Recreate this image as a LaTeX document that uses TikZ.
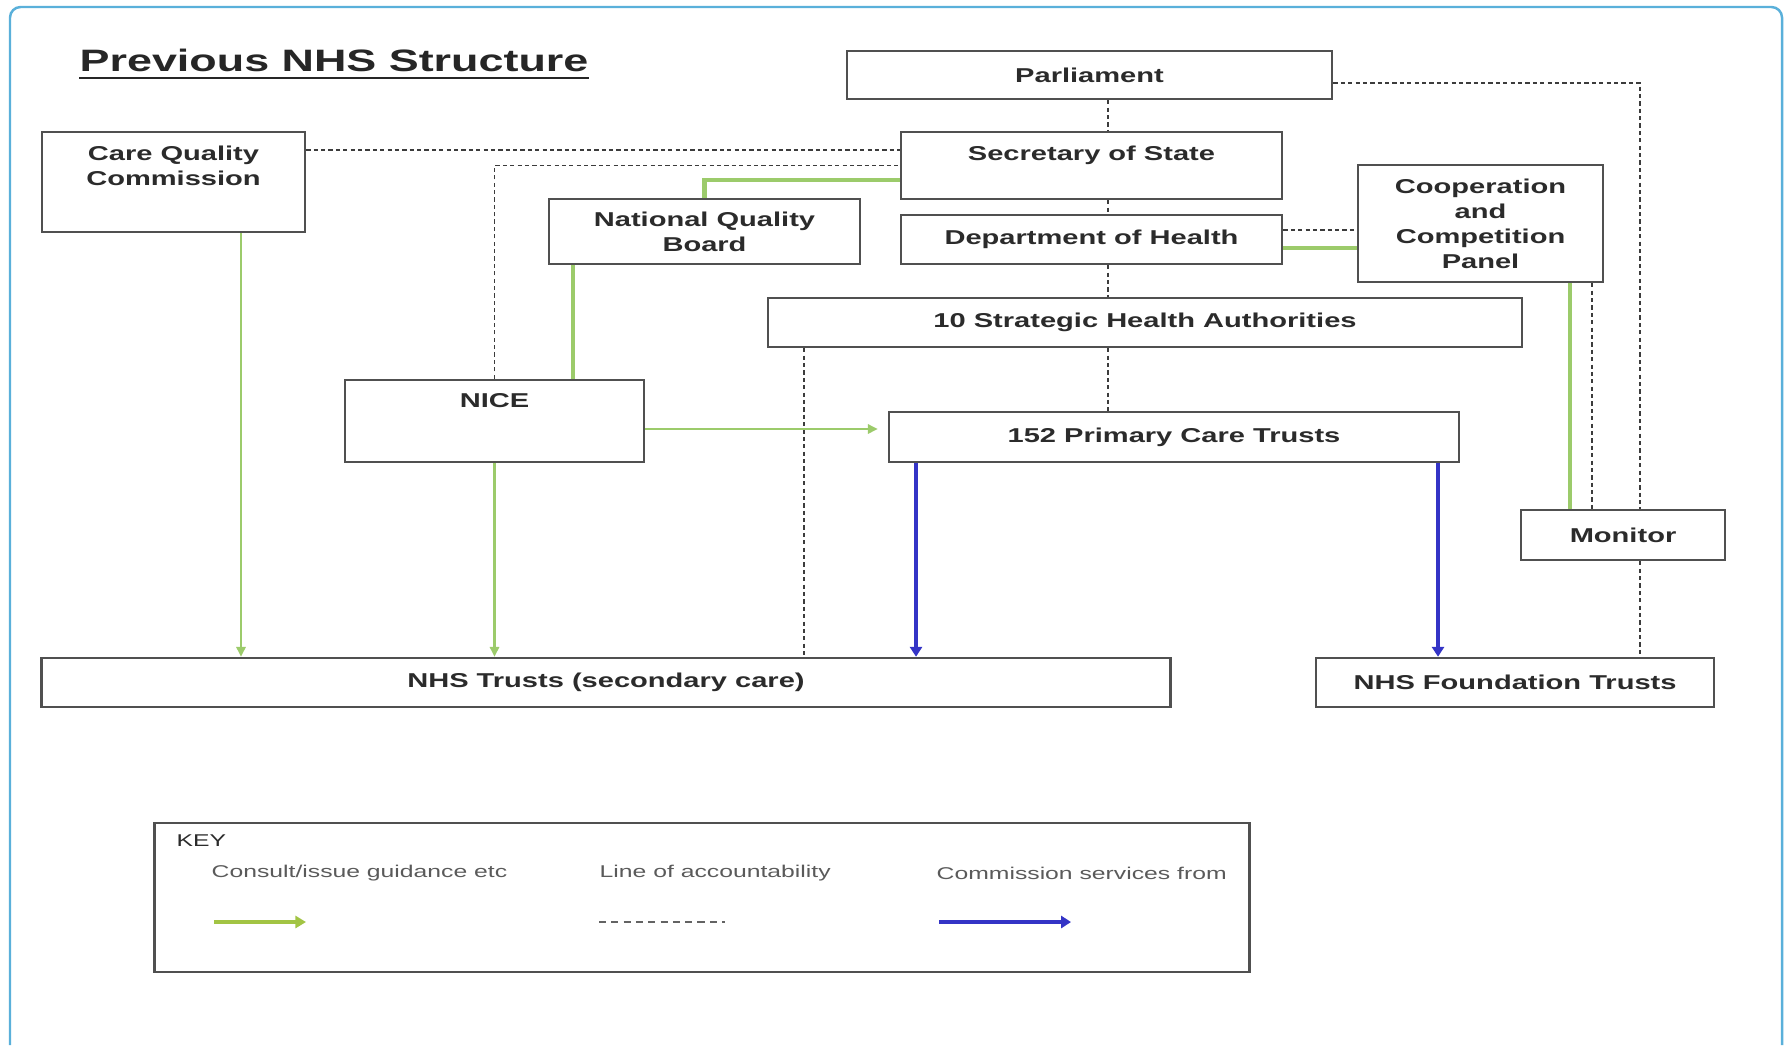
\documentclass[tikz,border=0pt]{standalone}
\usepackage{fontspec}
\usepackage{tikz}
\usepackage{xcolor}
\usetikzlibrary{arrows.meta}
\newfontfamily\nhsfont[FakeStretch=1.45]{Liberation Sans}

\begin{document}
\begin{tikzpicture}[x=0.01cm,y=-0.01cm,
  orgbox/.style={draw=boxgrey,line width=0.7pt,fill=white,inner sep=0pt,align=center,text=inkgrey,font=\nhsfont\bfseries\fontsize{5.7}{7.1}\selectfont},
  toptext/.style={anchor=north,inner xsep=0pt,inner ysep=4pt,align=center,text=inkgrey,font=\nhsfont\bfseries\fontsize{5.7}{7.1}\selectfont},
  account/.style={draw=dashgrey,line width=0.5pt,dash pattern=on 1.2pt off 0.9pt},
  consult/.style={draw=nhsgreen,line width=0.7pt,-{Triangle[length=2.8pt,width=2.6pt]}},
  consultbar/.style={draw=nhsgreen,line width=1.4pt},
  commission/.style={draw=nhsblue,line width=1.2pt,-{Triangle[length=2.8pt,width=3.4pt]}},
  keytext/.style={anchor=west,inner sep=0pt,text=keygrey,font=\nhsfont\fontsize{4.85}{6}\selectfont}]
\definecolor{boxgrey}{HTML}{505050}
\definecolor{inkgrey}{HTML}{2B2B2B}
\definecolor{dashgrey}{HTML}{3C3C3C}
\definecolor{nhsgreen}{HTML}{9CCB6B}
\definecolor{keygreen}{HTML}{A2C444}
\definecolor{nhsblue}{HTML}{3434C6}
\definecolor{keygrey}{HTML}{5A5A5A}
\definecolor{framecyan}{HTML}{5AB0DA}
\definecolor{titlegrey}{HTML}{262626}
\useasboundingbox (0,0) rectangle (1789,1045);
\draw[framecyan,line width=0.7pt,rounded corners=3pt] (10,1045) -- (10,7) -- (1782,7) -- (1782,1045);

% title
\node[anchor=base west,inner sep=0pt,text=titlegrey,font=\nhsfont\bfseries\fontsize{8.8}{10}\selectfont] (title) at (79,71) {Previous NHS Structure};
\draw[titlegrey,line width=0.75pt] ([yshift=-2pt]title.base west) -- ([yshift=-2pt]title.base east);

% organisations
\node[orgbox,minimum width=4.85cm,minimum height=0.48cm] (parl) at (1089.5,75) {Parliament};
\node[orgbox,minimum width=3.81cm,minimum height=0.67cm,label={[toptext,name=sostxt]north:Secretary of State}] (sos) at (1091.5,165.5) {};
\node[orgbox,minimum width=3.11cm,minimum height=0.65cm] (nqb) at (704.5,231.5) {National Quality\\Board};
\node[orgbox,minimum width=3.81cm,minimum height=0.49cm] (dh) at (1091.5,239.5) {Department of Health};
\node[orgbox,minimum width=2.45cm,minimum height=1.17cm] (ccp) at (1480.5,223.5) {Cooperation\\and\\Competition\\Panel};
\node[orgbox,minimum width=7.54cm,minimum height=0.49cm] (sha) at (1145,322.5) {10 Strategic Health Authorities};
\node[orgbox,minimum width=2.63cm,minimum height=1.00cm,label={[toptext,name=cqctxt]north:Care Quality\\Commission}] (cqc) at (173.5,182) {};
\node[orgbox,minimum width=2.99cm,minimum height=0.82cm,label={[toptext,name=nicetxt]north:NICE}] (nice) at (494.5,421) {};
\node[orgbox,minimum width=5.70cm,minimum height=0.50cm] (pct) at (1174,437) {152 Primary Care Trusts};
\node[orgbox,minimum width=2.04cm,minimum height=0.50cm] (mon) at (1623,535) {Monitor};
\node[orgbox,minimum width=11.28cm,minimum height=0.49cm] (nhst) at (606,682.5) {NHS Trusts (secondary care)};
\node[orgbox,minimum width=3.98cm,minimum height=0.49cm] (nhsft) at (1515,682.5) {NHS Foundation Trusts};

% columns and rows for the links
\foreach \nm/\x in {spine/1108,cqcx/241,nqbx/573,shax/804,pctl/916,pctr/1438,ccpg/1570,ccpd/1592,monx/1640}
  \coordinate (\nm) at (\x,0);
\foreach \nm/\y in {rowa/150,rowg/180,rowp/83,rowd/230,rowe/248,rown/429,keyrow/922}
  \coordinate (\nm) at (0,\y);

% lines of accountability
\foreach \a/\b in {parl/sos,sos/dh,dh/sha,sha/pct}
  \draw[account] (spine |- \a.south) -- (spine |- \b.north);
\draw[account] (cqc.east |- rowa) -- (sos.west |- rowa);
\draw[account] (nice.north) |- (sos.west);
\draw[account] (parl.east |- rowp) -| (monx |- mon.north);
\draw[account] (monx |- mon.south) -- (monx |- nhsft.north);
\draw[account] (ccpd |- ccp.south) -- (ccpd |- mon.north);
\draw[account] (dh.east |- rowd) -- (ccp.west |- rowd);
\draw[account] (shax |- sha.south) -- (shax |- nhst.north);

% consult / issue guidance
\draw[consultbar] (sos.west |- rowg) -| (nqb.north);
\draw[consultbar] (nqbx |- nqb.south) -- (nqbx |- nice.north);
\draw[consultbar] (dh.east |- rowe) -- (ccp.west |- rowe);
\draw[consultbar] (ccpg |- ccp.south) -- (ccpg |- mon.north);
\draw[consult] (cqcx |- cqc.south) -- (cqcx |- nhst.north);
\draw[consult] (nice.south) -- (nice.south |- nhst.north);
\draw[consult,shorten >=2.8pt] (nice.east |- rown) -- (pct.west |- rown);

% commission services
\draw[commission] (pctl |- pct.south) -- (pctl |- nhst.north);
\draw[commission] (pctr |- pct.south) -- (pctr |- nhsft.north);

% key
\node[draw=boxgrey,line width=0.7pt,minimum width=10.94cm,minimum height=1.49cm,inner sep=0pt] (key) at (702,897.5) {};
\node[keytext,text=inkgrey] (keyhead) at (176,841) {KEY};
\node[keytext] (keyc) at (211,873) {Consult/issue guidance etc};
\node[keytext] (keya) at (599,873) {Line of accountability};
\node[keytext] (keys) at (936,873) {Commission services from};
\draw[keygreen,line width=1.3pt,-{Triangle[length=3pt,width=3.4pt]}] (keyc.west |- keyrow) ++(3,0) -- ++(92,0);
\draw[dashgrey!80,line width=0.6pt,dash pattern=on 2pt off 1.5pt] (keya.west |- keyrow) -- ++(126,0);
\draw[commission,line width=1.4pt] (keys.west |- keyrow) ++(3,0) -- ++(132,0);
\end{tikzpicture}
\end{document}
